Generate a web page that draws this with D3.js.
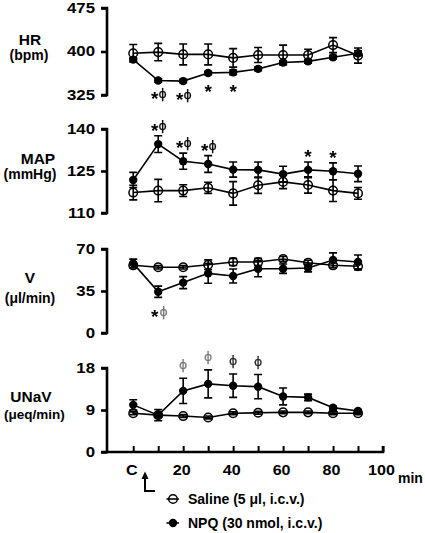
<!DOCTYPE html>
<html><head><meta charset="utf-8">
<script src="https://cdn.jsdelivr.net/npm/d3@7"></script>
<style>body{margin:0;background:#fff}svg{display:block}</style>
</head><body><svg id="c" width="425" height="533"></svg>
<script>
const times = [0,10,20,30,40,50,60,70,80,90];
const xTicks = [0,10,20,30,40,50,60,70,80,90,100];
const xTickLabels = ["C","","20","","40","","60","","80","","100"];

const hrSaline    = [397,399,395,395,389,394,394,394,411,393];
const hrSalineErr = [15,15,18,18,16,13,17,10,13,13];
const hrNPQ       = [386,350,349,363,364,370,381,383,390,397];
const hrNPQErr    = [3,3,3,3,4,3,3,3,3,4];
const hrSig       = ["","*ϕ","*ϕ","*","*","","","","",""];

const mapSaline    = [117.3,118,118,119,117,119.9,121.1,120,118,117];
const mapSalineErr = [2.6,4,2.1,2,4.2,2.9,2.4,2.9,3.9,2.1];
const mapNPQ       = [121.8,134.6,128.5,127.5,125.5,125.4,123.9,125.4,124.9,124];
const mapNPQErr    = [2.7,3,2.9,3,2.7,2.8,2.8,2.8,3,2.8];
const mapSig       = ["","*ϕ","*ϕ","*ϕ","","","","*","*",""];

const vSaline    = [56.4,54.8,54.8,56.9,59.2,59.2,61.7,58.6,56.4,55.6];
const vSalineErr = [2,1.5,1.5,4,3,3,2,2,2,3];
const vNPQ       = [58,34.4,42,49.7,47.5,53.6,53.6,54.2,60.8,59.2];
const vNPQErr    = [3.6,4.7,5,8.3,5.8,6.7,3.9,3.3,6,5.8];
const vSig       = ["","*ϕ","","","","","","","",""];

const unSaline    = [8.3,7.9,7.7,7.4,8.3,8.4,8.5,8.5,8.3,8.3];
const unSalineErr = [0.3,0.3,0.3,0.3,0.3,0.3,0.3,0.3,0.3,0.3];
const unNPQ       = [10.1,7.9,13.1,14.6,14.2,14,11.9,11.7,9.5,8.8];
const unNPQErr    = [1.1,1.2,2.7,3,2.5,2.6,1.8,0.7,0.3,0.3];
const unSig       = ["","","ϕ","ϕ","ϕ","ϕ","","","",""];

const panels = [
  {label:"HR", unit:"(bpm)", domain:[325,475], ticks:[325,400,475], top:8, bottom:95,
   saline:hrSaline, salineErr:hrSalineErr, npq:hrNPQ, npqErr:hrNPQErr, sig:hrSig, sigSide:"below", sigOff:12,
   lx:30, ly:44.5, ux:29, uy:60},
  {label:"MAP", unit:"(mmHg)", domain:[110,140], ticks:[110,125,140], top:129, bottom:213,
   saline:mapSaline, salineErr:mapSalineErr, npq:mapNPQ, npqErr:mapNPQErr, sig:mapSig, sigSide:"above", sigOff:10,
   lx:38, ly:163.5, ux:30, uy:179},
  {label:"V", unit:"(μl/min)", domain:[0,70], ticks:[0,35,70], top:249, bottom:333,
   saline:vSaline, salineErr:vSalineErr, npq:vNPQ, npqErr:vNPQErr, sig:vSig, sigSide:"below", sigOff:15, phiGrey:true,
   lx:30, ly:283, ux:30, uy:303},
  {label:"UNaV", unit:"(μeq/min)", domain:[0,18], ticks:[0,9,18], top:368, bottom:452,
   saline:unSaline, salineErr:unSalineErr, npq:unNPQ, npqErr:unNPQErr, sig:unSig, sigSide:"above", sigOff:13, phiGrey:true,
   lx:31, ly:401.5, ux:34.5, uy:419}
];

const FONT = "'Liberation Sans', Arial, Helvetica, sans-serif";
const svg = d3.select("#c");
const defs = svg.append("defs");
const flt = defs.append("filter").attr("id","grey").attr("filterUnits","userSpaceOnUse")
  .attr("x",0).attr("y",0).attr("width",425).attr("height",533);
flt.append("feColorMatrix").attr("type","saturate").attr("values","0");
svg.append("rect").attr("width",425).attr("height",533).attr("fill","#fff");

const x = d3.scaleLinear().domain([-10.5,100]).range([107,383]);
const sigLayer = svg.append("g").attr("filter","url(#grey)");

panels.forEach((p,pi) => {
  const y = d3.scaleLinear().domain(p.domain).range([p.bottom,p.top]);
  const g = svg.append("g");
  const ax = g.append("g").attr("transform","translate(107,0)")
    .call(d3.axisLeft(y).tickValues(p.ticks).tickSize(6).tickFormat(""));
  ax.select(".domain").attr("d",`M-6,${p.top}H0V${p.bottom}H-6`).attr("stroke","#000").attr("stroke-width",2.6).attr("fill","none");
  ax.selectAll(".tick line").attr("stroke","#000").attr("stroke-width",2.6);
  p.ticks.forEach(t => {
    g.append("text").attr("transform",`translate(95,${y(t)+4.8}) scale(1.2,1)`)
      .attr("text-anchor","end").attr("font-family",FONT).attr("font-weight","bold")
      .attr("font-size",14).text(t);
  });
  g.append("text").attr("x",p.lx).attr("y",p.ly).attr("text-anchor","middle")
    .attr("font-family",FONT).attr("font-weight","bold").attr("font-size",15.5).text(p.label);
  g.append("text").attr("x",p.ux).attr("y",p.uy).attr("text-anchor","middle")
    .attr("font-family",FONT).attr("font-weight","bold").attr("font-size",p.unit.length>8?13.5:14).text(p.unit);

  const line = d3.line().x((d,i)=>x(times[i])).y(d=>y(d));
  g.append("path").datum(p.saline).attr("d",line).attr("fill","none").attr("stroke","#000").attr("stroke-width",1.6);
  g.append("path").datum(p.npq).attr("d",line).attr("fill","none").attr("stroke","#000").attr("stroke-width",1.6);
  const eb = (vals, errs) => {
    vals.forEach((v,i) => {
      const cx = x(times[i]), y1 = y(v+errs[i]), y2 = y(v-errs[i]);
      g.append("path").attr("d",`M${cx},${y1}V${y2}M${cx-4},${y1}H${cx+4}M${cx-4},${y2}H${cx+4}`)
        .attr("stroke","#000").attr("stroke-width",1.6).attr("fill","none");
    });
  };
  eb(p.saline,p.salineErr);
  eb(p.npq,p.npqErr);
  g.selectAll(null).data(p.saline).enter().append("circle")
    .attr("cx",(d,i)=>x(times[i])).attr("cy",d=>y(d)).attr("r",4.3)
    .attr("fill","none").attr("stroke","#000").attr("stroke-width",1.5);
  g.selectAll(null).data(p.npq).enter().append("circle")
    .attr("cx",(d,i)=>x(times[i])).attr("cy",d=>y(d)).attr("r",4.2)
    .attr("fill","#000");
  p.sig.forEach((s,i) => {
    if(!s) return;
    const cx = x(times[i]);
    const cy = p.sigSide==="below" ? y(p.npq[i]-p.npqErr[i]) + p.sigOff : y(p.npq[i]+p.npqErr[i]) - p.sigOff;
    const hasStar = s.includes("*"), hasPhi = s.includes("ϕ");
    const phiCol = p.phiGrey ? (pi===3 && i>3 ? "#222" : "#777") : "#000";
    const star = (sx, sy) => sigLayer.append("text").attr("x",sx).attr("y",sy).attr("text-anchor","middle")
        .attr("font-family",FONT).attr("font-weight","bold").attr("font-size",19).attr("fill","#000").text("*");
    const phi = (sx, sy) => sigLayer.append("text").attr("x",sx).attr("y",sy).attr("text-anchor","middle")
        .attr("font-family","'DejaVu Sans', sans-serif").attr("font-size",12.5).attr("fill",phiCol)
        .attr("stroke",phiCol).attr("stroke-width",0.25).text("ϕ");
    if(hasStar && hasPhi){
      star(cx-3.5, cy+11);
      phi(cx+(pi===2?5.5:4.5), cy+4);
    } else if(hasStar){
      star(cx, cy+11);
    } else {
      phi(cx, cy+4);
    }
  });
});

const xa = svg.append("g").attr("transform","translate(0,452)")
  .call(d3.axisTop(x).tickValues(xTicks).tickSize(6).tickFormat(""));
xa.select(".domain").attr("d","M107,0H383V-6").attr("stroke","#000").attr("stroke-width",2.6).attr("fill","none");
xa.selectAll(".tick line").attr("stroke","#000").attr("stroke-width",2);
xTicks.forEach((t,i) => {
  if(!xTickLabels[i]) return;
  svg.append("text").attr("transform",`translate(${x(t)-1.5},475) scale(1.15,1)`).attr("text-anchor","middle")
    .attr("font-family",FONT).attr("font-weight","bold").attr("font-size",14).text(xTickLabels[i]);
});
svg.append("text").attr("x",398).attr("y",483).attr("font-family",FONT).attr("font-weight","bold")
  .attr("font-size",14).text("min");

svg.append("path").attr("d","M145,477V491H155").attr("stroke","#000").attr("stroke-width",2).attr("fill","none");
svg.append("path").attr("d","M145,471.5L141.5,479H148.5Z").attr("fill","#000");

const legend = [
  {name:"Saline (5 μl, i.c.v.)", filled:false, y:499},
  {name:"NPQ (30 nmol, i.c.v.)", filled:true, y:523}
];
legend.forEach(l => {
  svg.append("line").attr("x1",166.5).attr("x2",179).attr("y1",l.y).attr("y2",l.y)
    .attr("stroke","#000").attr("stroke-width",1.6);
  svg.append("circle").attr("cx",173).attr("cy",l.y).attr("r",l.filled?4.2:4.3)
    .attr("fill",l.filled?"#000":"none").attr("stroke","#000").attr("stroke-width",l.filled?0:1.5);
  svg.append("text").attr("x",188).attr("y",l.y+5).attr("font-family",FONT).attr("font-weight","bold")
    .attr("font-size",14).text(l.name);
});
</script></body></html>
